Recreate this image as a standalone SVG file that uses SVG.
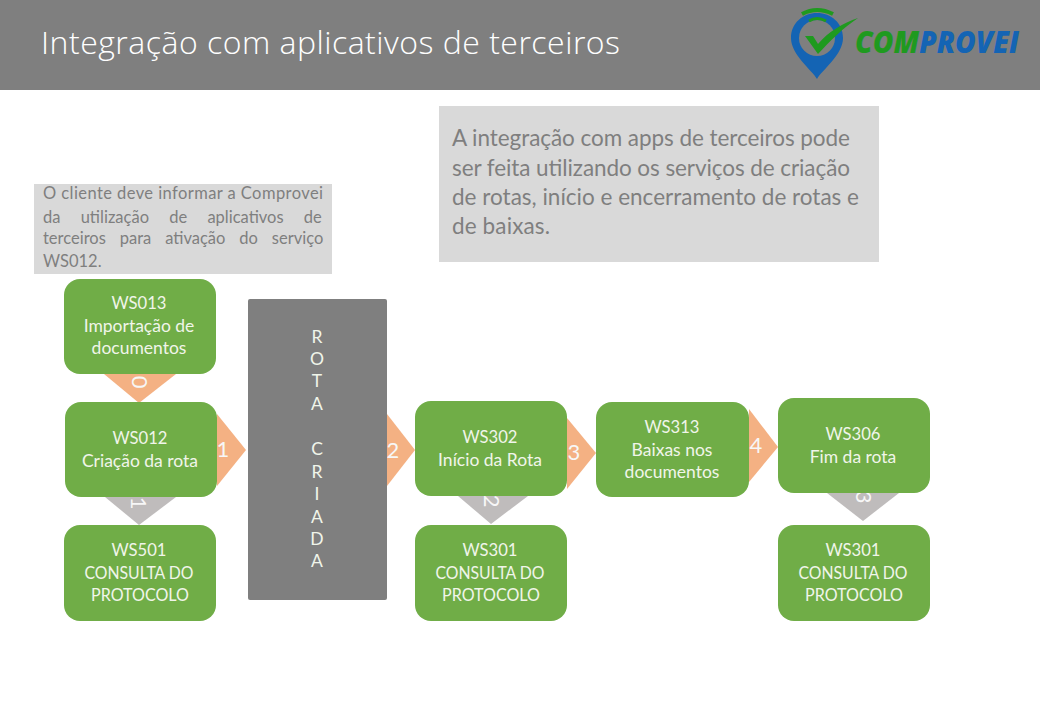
<svg xmlns="http://www.w3.org/2000/svg" width="1040" height="720" viewBox="0 0 1040 720">
<style>
text{font-family:"Lato","Carlito","Open Sans",sans-serif}
.n{fill:#70ad47}
.t{fill:#f0f5ea;font-size:17.5px;text-anchor:middle}
.o{fill:#f4b183}
.g{fill:#bfbcbc}
.d{fill:#f7f7f7;font-size:22px;text-anchor:middle}
.info{fill:#7f7f7f}
.box{fill:#d9d9d9}
</style>
<rect width="1040" height="720" fill="#fff"/>
<g id="header">
<rect width="1040" height="90" fill="#7f7f7f"/>
<text x="41" y="54" style="font-family:'Open Sans',sans-serif;font-size:32px;font-weight:300;fill:#fff" textLength="579" lengthAdjust="spacing">Integração com aplicativos de terceiros</text>
</g>
<g id="logo">
<path d="M817 79C812 70 791 55 791 38C791 23 803 13 817 13C831 13 843 23 843 38C843 55 822 70 817 79Z" fill="#1464b4"/>
<circle cx="817" cy="38" r="18" fill="#7f7f7f"/>
<path d="M805 36L813 36L818 44C828 32 843 23 858 18C843 28 830 41 818 54Z" fill="#1f9a1f"/>
<path d="M802 14Q817 6 833 14" fill="none" stroke="#1f9a1f" stroke-width="4"/>
<path d="M809 21Q817 16 826 21" fill="none" stroke="#1f9a1f" stroke-width="3"/>
<text x="855" y="53" style="font-family:'Open Sans',sans-serif;font-size:30px;font-weight:800;font-style:italic;fill:#1f9a1f" textLength="164" lengthAdjust="spacingAndGlyphs">COM<tspan fill="#1464b4">PROVEI</tspan></text>
</g>
<g id="info-right">
<rect class="box" x="439" y="106" width="440" height="156"/>
<g class="info" style="font-size:22.5px">
<text x="452" y="146" textLength="398">A integração com apps de terceiros pode</text>
<text x="452" y="176" textLength="398">ser feita utilizando os serviços de criação</text>
<text x="452" y="205" textLength="407">de rotas, início e encerramento de rotas e</text>
<text x="452" y="234" textLength="98">de baixas.</text>
</g>
</g>
<g id="info-left">
<rect class="box" x="34" y="184" width="298" height="90"/>
<g class="info" style="font-size:16.5px">
<text x="43" y="199" textLength="280">O cliente deve informar a Comprovei</text>
<text x="43" y="223" word-spacing="16">da utilização de aplicativos de</text>
<text x="43" y="244" word-spacing="9.7">terceiros para ativação do serviço</text>
<text x="43" y="267">WS012.</text>
</g>
</g>
<g id="connectors">
<path class="o" d="M104 374H176L139 403Z"/>
<path class="g" d="M105 497H176L139 525Z"/>
<path class="o" d="M217 414L246 450L217 486Z"/>
<path class="o" d="M387 414L415 450L387 486Z"/>
<path class="o" d="M567 418L596 453L567 489Z"/>
<path class="o" d="M749 409L778 447L749 482Z"/>
<path class="g" d="M458 496H528L491 524Z"/>
<path class="g" d="M827 493H899L863 521Z"/>
<text class="d" transform="translate(132 382) rotate(90)">0</text>
<text class="d" transform="translate(131 503) rotate(90)">1</text>
<text class="d" transform="translate(484 501) rotate(90)">2</text>
<text class="d" transform="translate(856 497) rotate(90)">3</text>
<text class="d" x="223" y="457">1</text>
<text class="d" x="393" y="458">2</text>
<text class="d" x="574" y="460">3</text>
<text class="d" x="756" y="453">4</text>
</g>
<g id="rota">
<rect x="248" y="299" width="139" height="301" rx="2" fill="#7f7f7f"/>
<text class="t" x="317" y="343">R</text>
<text class="t" x="317" y="365">O</text>
<text class="t" x="317" y="387">T</text>
<text class="t" x="317" y="410">A</text>
<text class="t" x="317" y="455">C</text>
<text class="t" x="317" y="478">R</text>
<text class="t" x="317" y="500">I</text>
<text class="t" x="317" y="523">A</text>
<text class="t" x="317" y="545">D</text>
<text class="t" x="317" y="567">A</text>
</g>
<g id="ws013"><rect class="n" x="64" y="279" width="152" height="95" rx="16"/>
<text class="t" x="139" y="309" textLength="55" lengthAdjust="spacingAndGlyphs">WS013</text><text class="t" x="139" y="332">Importação de</text><text class="t" x="139" y="354">documentos</text></g>
<g id="ws012"><rect class="n" x="65" y="402" width="152" height="95" rx="16"/>
<text class="t" x="140" y="444" textLength="55" lengthAdjust="spacingAndGlyphs">WS012</text><text class="t" x="140" y="467">Criação da rota</text></g>
<g id="ws501"><rect class="n" x="64" y="525" width="152" height="96" rx="16"/>
<text class="t" x="139" y="556" textLength="55" lengthAdjust="spacingAndGlyphs">WS501</text><text class="t" x="139" y="579" textLength="109" lengthAdjust="spacingAndGlyphs">CONSULTA DO</text><text class="t" x="140" y="601" textLength="98" lengthAdjust="spacingAndGlyphs">PROTOCOLO</text></g>
<g id="ws302"><rect class="n" x="415" y="401" width="152" height="95" rx="16"/>
<text class="t" x="490" y="443" textLength="55" lengthAdjust="spacingAndGlyphs">WS302</text><text class="t" x="490" y="466">Início da Rota</text></g>
<g id="ws301a"><rect class="n" x="415" y="525" width="152" height="96" rx="16"/>
<text class="t" x="490" y="556" textLength="55" lengthAdjust="spacingAndGlyphs">WS301</text><text class="t" x="490" y="579" textLength="109" lengthAdjust="spacingAndGlyphs">CONSULTA DO</text><text class="t" x="491" y="601" textLength="98" lengthAdjust="spacingAndGlyphs">PROTOCOLO</text></g>
<g id="ws313"><rect class="n" x="596" y="402" width="153" height="95" rx="16"/>
<text class="t" x="672" y="433" textLength="55" lengthAdjust="spacingAndGlyphs">WS313</text><text class="t" x="672" y="456">Baixas nos</text><text class="t" x="672" y="478">documentos</text></g>
<g id="ws306"><rect class="n" x="778" y="398" width="152" height="95" rx="16"/>
<text class="t" x="853" y="440" textLength="55" lengthAdjust="spacingAndGlyphs">WS306</text><text class="t" x="853" y="463">Fim da rota</text></g>
<g id="ws301b"><rect class="n" x="778" y="525" width="152" height="96" rx="16"/>
<text class="t" x="853" y="556" textLength="55" lengthAdjust="spacingAndGlyphs">WS301</text><text class="t" x="853" y="579" textLength="109" lengthAdjust="spacingAndGlyphs">CONSULTA DO</text><text class="t" x="854" y="601" textLength="98" lengthAdjust="spacingAndGlyphs">PROTOCOLO</text></g>
</svg>
